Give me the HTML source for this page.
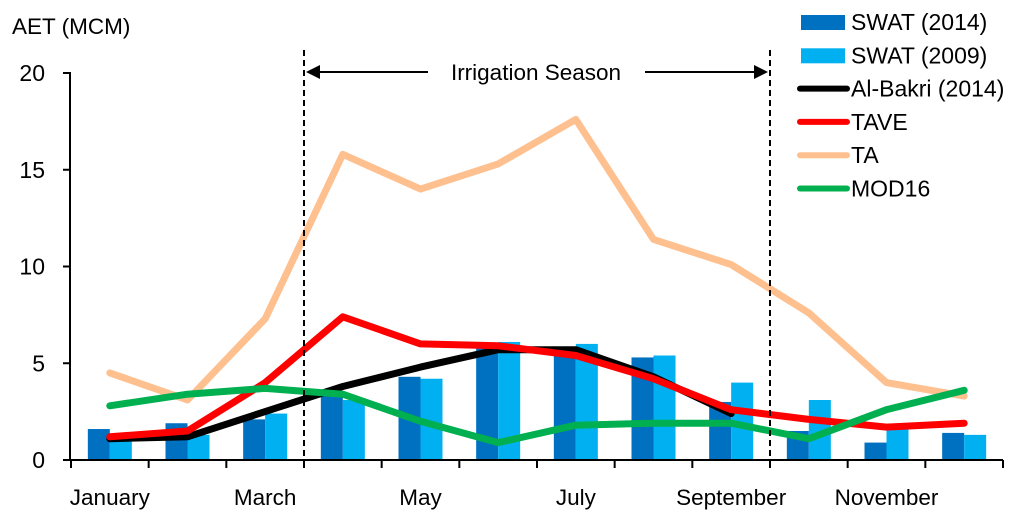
<!DOCTYPE html>
<html><head><meta charset="utf-8"><style>
html,body{margin:0;padding:0;background:#fff;}
svg{display:block;font-family:"Liberation Sans",sans-serif;}
</style></head><body>
<svg id="chart" width="1024" height="518"></svg>
<script>
const months=["January","February","March","April","May","June","July","August","September","October","November","December"];
const swat2014=[1.6,1.9,2.1,3.5,4.3,5.9,5.6,5.3,3.0,1.5,0.9,1.4];
const swat2009=[1.1,1.3,2.4,3.1,4.2,6.1,6.0,5.4,4.0,3.1,1.6,1.3];
const albakri=[1.1,1.2,2.5,3.8,4.8,5.7,5.7,4.3,2.4,null,null,null];
const tave=[1.2,1.5,4.0,7.4,6.0,5.9,5.4,4.2,2.6,2.1,1.7,1.9];
const ta=[4.5,3.1,7.3,15.8,14.0,15.3,17.6,11.4,10.1,7.6,4.0,3.3];
const mod16=[2.8,3.4,3.7,3.4,2.0,0.9,1.8,1.9,1.9,1.1,2.6,3.6];
const yTicks=[0,5,10,15,20];
const xLabelIdx=[0,2,4,6,8,10];

const NS="http://www.w3.org/2000/svg";
const svg=document.getElementById('chart');
const X0=71,X1=1003,Y0=460,Y1=73,YMAX=20;
const cw=(X1-X0)/months.length;
function xc(i){return X0+(i+0.5)*cw;}
function yv(v){return Y0-(v/YMAX)*(Y0-Y1);}
function mk(tag,attrs){const e=document.createElementNS(NS,tag);for(const k in attrs)e.setAttribute(k,attrs[k]);svg.appendChild(e);return e;}

const bw=22;
swat2014.forEach((v,i)=>{const r=mk('rect',{x:xc(i)-bw,y:yv(v),width:bw,height:Y0-yv(v),fill:'#0070C0'});

});
swat2009.forEach((v,i)=>{const r=mk('rect',{x:xc(i),y:yv(v),width:bw,height:Y0-yv(v),fill:'#00B0F0'});

});

function line(data,color,name){
  const pts=[];data.forEach((v,i)=>{if(v!==null)pts.push(xc(i).toFixed(1)+','+yv(v).toFixed(1));});
  const p=mk('polyline',{points:pts.join(' '),fill:'none',stroke:color,'stroke-width':7,'stroke-linejoin':'round','stroke-linecap':'round'});
  
  
}
line(ta,'#FFC090','line-ta');
line(albakri,'#000000','line-al-bakri');
line(tave,'#FF0000','line-tave');
line(mod16,'#00B050','line-mod16');

let a=mk('line',{x1:X0-1,y1:Y1,x2:X0-1,y2:Y0,stroke:'#000','stroke-width':2});

a=mk('line',{x1:X0-2,y1:Y0,x2:X1,y2:Y0,stroke:'#000','stroke-width':2});

yTicks.forEach(v=>{
  const t=mk('line',{x1:X0-8,y1:yv(v),x2:X0,y2:yv(v),stroke:'#000','stroke-width':2});
  
  const l=mk('text',{x:45,y:yv(v)+8,'text-anchor':'end','font-size':23});l.textContent=v;
  
});
for(let i=0;i<=months.length;i++){
  const x=X0+i*cw;const t=mk('line',{x1:x,y1:Y0,x2:x,y2:Y0+8,stroke:'#000','stroke-width':2});
  
}
xLabelIdx.forEach(i=>{
  const l=mk('text',{x:xc(i),y:505,'text-anchor':'middle','font-size':22.5});l.textContent=months[i];
  
});
let tt=mk('text',{x:12,y:34,'font-size':22.5});tt.textContent='AET (MCM)';


[X0+3*cw,X0+9*cw].forEach(x=>{const d=mk('line',{x1:x,y1:50,x2:x,y2:Y0,stroke:'#000','stroke-width':2,'stroke-dasharray':'6,4'});
});
const sx0=X0+3*cw,sx1=X0+9*cw;
let s=mk('line',{x1:sx0+14,y1:72,x2:428,y2:72,stroke:'#000','stroke-width':2});
s=mk('line',{x1:645,y1:72,x2:sx1-14,y2:72,stroke:'#000','stroke-width':2});
s=mk('polygon',{points:`${sx0+2},72 ${sx0+16},65 ${sx0+16},79`,fill:'#000'});
s=mk('polygon',{points:`${sx1-2},72 ${sx1-16},65 ${sx1-16},79`,fill:'#000'});
s=mk('text',{x:536,y:80,'text-anchor':'middle','font-size':22.5});s.textContent='Irrigation Season';


const leg=[["SWAT (2014)","#0070C0","bar"],["SWAT (2009)","#00B0F0","bar"],["Al-Bakri (2014)","#000","line"],["TAVE","#FF0000","line"],["TA","#FFC090","line"],["MOD16","#00B050","line"]];
leg.forEach((e,i)=>{
  const y=22+i*33.3;
  const g=document.createElementNS(NS,'g');svg.appendChild(g);
  
  
  let sw;
  if(e[2]==='bar'){sw=document.createElementNS(NS,'rect');sw.setAttribute('x',801);sw.setAttribute('y',y-7);sw.setAttribute('width',44);sw.setAttribute('height',15);sw.setAttribute('fill',e[1]);}
  else{sw=document.createElementNS(NS,'line');sw.setAttribute('x1',800);sw.setAttribute('x2',847);sw.setAttribute('y1',y);sw.setAttribute('y2',y);sw.setAttribute('stroke',e[1]);sw.setAttribute('stroke-width',6);sw.setAttribute('stroke-linecap','round');}
  g.appendChild(sw);
  const t=document.createElementNS(NS,'text');t.setAttribute('x',851);t.setAttribute('y',y+8);t.setAttribute('font-size',23);t.textContent=e[0];g.appendChild(t);
});
</script>
</body></html>
